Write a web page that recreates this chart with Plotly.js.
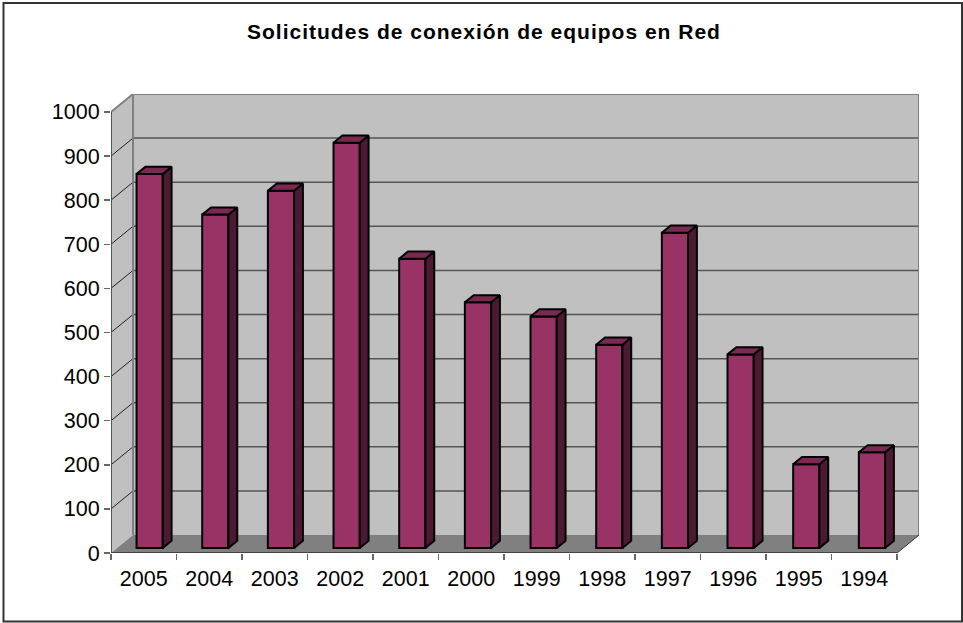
<!DOCTYPE html>
<html><head><meta charset="utf-8">
<script src="https://cdn.plot.ly/plotly-3.0.1.min.js"></script>
<style>html,body{margin:0;padding:0;background:#fff}.gtitle{letter-spacing:1px}</style></head>
<body><div id="chart" style="width:963px;height:623px"></div>
<script>
const chartTitle = "Solicitudes de conexión de equipos en Red";
const years = ["2005","2004","2003","2002","2001","2000","1999","1998","1997","1996","1995","1994"];
const requests = [848,756,810,919,656,557,525,461,715,439,190,217];
const yTicks = [0,100,200,300,400,500,600,700,800,900,1000];

// 3D projection expressed in axis units
const depthX = 0.336, depthY = 40.7;
const barFrontX = 0.09, barFrontY = 11.3, barBackX = 0.225, barBackY = 27.5;
const barWidth = 0.40, barPitch = 1.0025;
const n = years.length, yMax = 1000;
const centers = years.map((_, i) => i * barPitch + 0.5 + barFrontX);

const sideX = [], sideY = [], topX = [], topY = [];
requests.forEach((v, i) => {
  const r = centers[i] + barWidth / 2, l = centers[i] - barWidth / 2;
  const bot = barFrontY, t = barFrontY + v;
  const ox = barBackX - barFrontX, oy = barBackY - barFrontY;
  sideX.push(r, r + ox, r + ox, r, r, null);
  sideY.push(bot, bot + oy, t + oy, t, bot, null);
  topX.push(l, l + ox, r + ox, r, l, null);
  topY.push(t, t + oy, t + oy, t, t, null);
});

const shape = (type, x0, y0, x1, y1, extra) => Object.assign({type, xref:'x', yref:'y', x0, y0, x1, y1, layer:'below'}, extra);
const poly = (pts, fill) => ({type:'path', xref:'x', yref:'y', layer:'below', fillcolor:fill, line:{width:0},
  path:'M' + pts.map(p => p.join(',')).join('L') + 'Z'});
const shapes = [
  poly([[depthX,depthY],[n+depthX,depthY],[n+depthX,yMax+depthY],[depthX,yMax+depthY]], '#c0c0c0'),
  poly([[0,0],[depthX,depthY],[depthX,yMax+depthY],[0,yMax]], '#c0c0c0'),
  poly([[0,0],[n,0],[n+depthX,depthY],[depthX,depthY]], '#808080')
];
yTicks.forEach(v => {
  if (v > 0) {
    if (v < yMax) shapes.push(shape('line', depthX, v+depthY, n+depthX, v+depthY, {line:{color:'#555555', width:1.5}}));
    shapes.push(shape('line', 0, v, depthX, v+depthY, {line:{color:v===yMax?'#808080':'#222222', width:v===yMax?2:1}}));
  }
});
// wall borders
shapes.push(shape('line', depthX, depthY, depthX, yMax+depthY, {line:{color:'#808080', width:2}}));
shapes.push(shape('line', depthX, yMax+depthY, n+depthX, yMax+depthY, {line:{color:'#808080', width:2}}));
shapes.push(shape('line', n+depthX, depthY, n+depthX, yMax+depthY, {line:{color:'#808080', width:2}}));
shapes.push(shape('line', n, 0, n+depthX, depthY, {line:{color:'#333333', width:1}}));
// axes lines
shapes.push(shape('line', 0, 0, 0, yMax, {line:{color:'#555555', width:2}}));
shapes.push(shape('line', 0, 0, n, 0, {line:{color:'#444444', width:2}}));
// outer frame
shapes.push({type:'rect', xref:'paper', yref:'paper', layer:'above',
  x0:(3.5-111)/808, x1:(962-111)/808, y0:(553-621.5)/459, y1:(553-3)/459, line:{color:'#333333', width:2}, fillcolor:'rgba(0,0,0,0)'});

const traces = [
  {type:'bar', x:centers, y:requests, base:barFrontY, width:barWidth,
   marker:{color:'#993366', line:{color:'#000', width:2}}, hoverinfo:'skip'},
  {type:'scatter', mode:'lines', x:sideX, y:sideY, fill:'toself', fillcolor:'#4d1a33', line:{color:'#000', width:2}, hoverinfo:'skip'},
  {type:'scatter', mode:'lines', x:topX, y:topY, fill:'toself', fillcolor:'#7a2952', line:{color:'#000', width:2}, hoverinfo:'skip'}
];
const font = 'Liberation Sans, Arial, sans-serif';
const layout = {
  width:963, height:623, showlegend:false, paper_bgcolor:'#fff', plot_bgcolor:'rgba(0,0,0,0)',
  margin:{l:111, r:44, t:94, b:70, pad:0},
  title:{text:chartTitle, font:{family:font, size:21, color:'#000', weight:700}, x:484/963, xanchor:'center', y:1-32/623, yanchor:'middle', xref:'container', yref:'container'},
  xaxis:{range:[0, n+depthX], tickmode:'array', tickvals:years.map((_, i) => i + 0.5), ticktext:years,
    ticks:'', showgrid:false, zeroline:false, showline:false, ticklabelstandoff:10,
    minor:{tickmode:'array', tickvals:years.map((_, i) => i).concat([n]), ticks:'outside', ticklen:6, tickwidth:1.5, tickcolor:'#666666', showgrid:false},
    tickfont:{family:font, size:21.5, color:'#000'}, fixedrange:true},
  yaxis:{range:[0, yMax+depthY], tickmode:'array', tickvals:yTicks, ticktext:yTicks.map(String),
    ticks:'outside', ticklen:6, tickwidth:1.5, tickcolor:'#666666', showgrid:false, zeroline:false, showline:false,
    tickfont:{family:font, size:21.5, color:'#000'}, fixedrange:true},
  shapes
};
Plotly.newPlot('chart', traces, layout, {displayModeBar:false, staticPlot:true});
</script></body></html>
